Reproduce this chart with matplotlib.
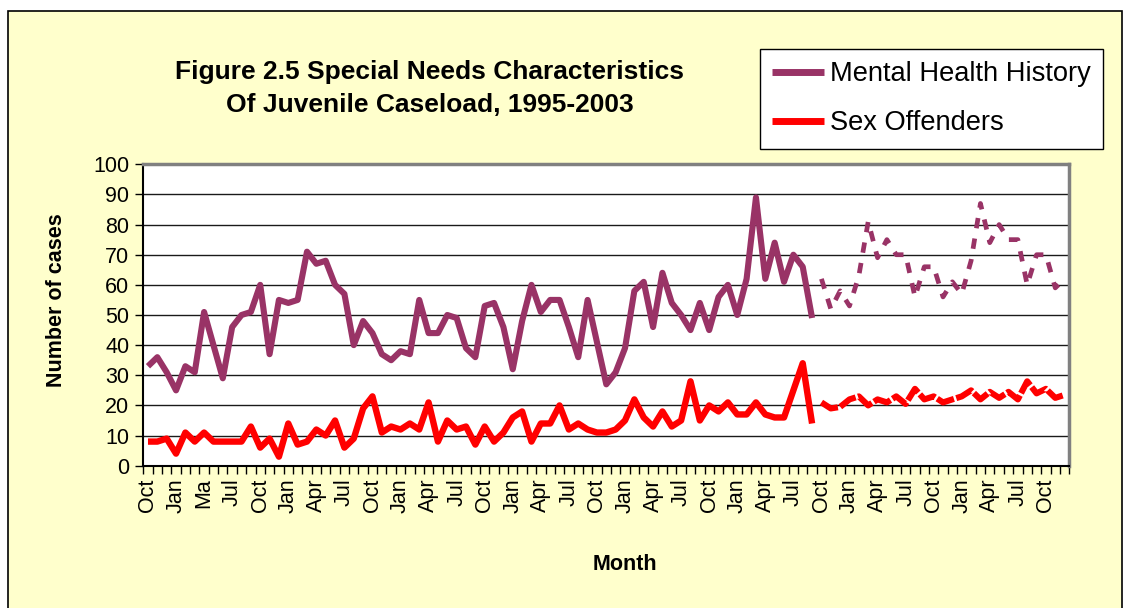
import numpy as np
import matplotlib
matplotlib.use("Agg")
import matplotlib.pyplot as plt
from matplotlib.patches import Rectangle

plt.rcParams["font.family"] = ["Liberation Sans", "DejaVu Sans"]

# Monthly caseload counts, Oct 1995 - Sep 2001 (recorded)
mental_health = [33, 36, 31, 25, 33, 31, 51, 40, 29, 46, 50, 51, 60, 37, 55, 54, 55, 71,
                 67, 68, 60, 57, 40, 48, 44, 37, 35, 38, 37, 55, 44, 44, 50, 49, 39, 36,
                 53, 54, 46, 32, 48, 60, 51, 55, 55, 46, 36, 55, 41, 27, 31, 39, 58, 61,
                 46, 64, 54, 50, 45, 54, 45, 56, 60, 50, 62, 89, 62, 74, 61, 70, 66, 49]
sex_offenders = [8, 8, 9, 4, 11, 8, 11, 8, 8, 8, 8, 13, 6, 9, 3, 14, 7, 8,
                 12, 10, 15, 6, 9, 19, 23, 11, 13, 12, 14, 12, 21, 8, 15, 12, 13, 7,
                 13, 8, 11, 16, 18, 8, 14, 14, 20, 12, 14, 12, 11, 11, 12, 15, 22, 16,
                 13, 18, 13, 15, 28, 15, 20, 18, 21, 17, 17, 21, 17, 16, 16, 25, 34, 14]

# Oct 2001 - Dec 2003 (projected)
mental_health_proj = [62, 52, 58, 53, 63, 81, 69, 75, 70, 70, 56, 66, 66, 56,
                      61, 57, 68, 87, 74, 80, 75, 75, 60, 70, 70, 59, 62]
sex_offenders_proj = [21, 19, 19.5, 22, 23, 20, 22, 21, 23, 20.5, 25.5, 22, 23, 21,
                      22, 23, 25, 22, 24.5, 22.5, 24.5, 22, 28, 24, 25.5, 22.5, 23.5]

month_labels = ["Oct", "Jan", "Ma", "Jul",
                "Oct", "Jan", "Apr", "Jul", "Oct", "Jan", "Apr", "Jul",
                "Oct", "Jan", "Apr", "Jul", "Oct", "Jan", "Apr", "Jul",
                "Oct", "Jan", "Apr", "Jul", "Oct", "Jan", "Apr", "Jul",
                "Oct", "Jan", "Apr", "Jul", "Oct"]

series_names = ["Mental Health History", "Sex Offenders"]
PURPLE = "#993366"
RED = "#FF0000"
BG = "#FFFFCC"

n_actual = len(mental_health)
n_total = n_actual + len(mental_health_proj)
x_actual = np.arange(n_actual)
x_proj = np.arange(n_actual, n_total)

fig = plt.figure(figsize=(11.27, 6.08), dpi=100, facecolor="white")

# Chart area background with thin black frame
fig.patches.append(Rectangle((8 / 1127, -0.02), (1122 - 8) / 1127, (608 - 11) / 608 + 0.02,
                             transform=fig.transFigure, facecolor=BG, edgecolor="black",
                             linewidth=1.2, zorder=-10))

ax = fig.add_axes([143.3 / 1127, 1 - 465.7 / 608, (1069.3 - 143.3) / 1127, (465.7 - 164.3) / 608])
ax.set_facecolor("white")

ln1, = ax.plot(x_actual, mental_health, color=PURPLE, lw=4.4, solid_joinstyle="round",
               solid_capstyle="butt", zorder=3)
ln2, = ax.plot(x_actual, sex_offenders, color=RED, lw=4.6, solid_joinstyle="round",
               solid_capstyle="butt", zorder=3)
ax.plot(x_proj, mental_health_proj, color=PURPLE, lw=3.4, linestyle=(0, (2.2, 2.2)),
        dash_capstyle="butt", zorder=3)
ax.plot(x_proj, sex_offenders_proj, color=RED, lw=4.4, linestyle=(0, (3.0, 0.4)),
        dash_capstyle="butt", zorder=3)

ax.set_xlim(-0.5, n_total - 0.5)
ax.set_ylim(0, 100)
ax.set_yticks(np.arange(0, 101, 10))
ax.yaxis.grid(True, color="#1a1a1a", lw=1.0)
ax.set_axisbelow(True)

ax.set_xticks(np.arange(0, 3 * len(month_labels), 3))
ax.set_xticklabels(month_labels, rotation=90)
ax.set_xticks(np.arange(-0.5, n_total, 1), minor=True)
ax.tick_params(axis="x", which="major", length=0, pad=9, labelsize=15.5)
ax.tick_params(axis="x", which="minor", length=6, width=1, direction="out")
ax.tick_params(axis="y", which="major", length=6, width=1, direction="out", pad=4, labelsize=15.5)

for side in ("left", "bottom"):
    ax.spines[side].set_color("black")
    ax.spines[side].set_linewidth(1.5)
for side in ("top", "right"):
    ax.spines[side].set_color("#808080")
    ax.spines[side].set_linewidth(2.5)

fig.text(430 / 1127, 1 - 88.5 / 608,
         "Figure 2.5 Special Needs Characteristics\nOf Juvenile Caseload, 1995-2003",
         ha="center", va="center", fontsize=19, fontweight="bold", linespacing=1.5)
fig.text(57 / 1127, 1 - 300 / 608, "Number of cases", rotation=90, ha="center", va="center",
         fontsize=15.5, fontweight="bold")
fig.text(625 / 1127, 1 - 565 / 608, "Month", ha="center", va="center",
         fontsize=15.5, fontweight="bold")

leg = fig.legend([ln1, ln2], series_names, loc="upper left",
                 bbox_to_anchor=(760 / 1127, 1 - 49 / 608), bbox_transform=fig.transFigure,
                 frameon=True, fancybox=False, edgecolor="black", facecolor="white",
                 framealpha=1, fontsize=19.6, handlelength=1.9, handletextpad=0.22,
                 borderpad=0.45, labelspacing=0.85, borderaxespad=0)
leg.get_frame().set_linewidth(1.0)
for h in leg.get_lines():
    h.set_linewidth(5)

fig.savefig("out.png", dpi=100, facecolor="white")
